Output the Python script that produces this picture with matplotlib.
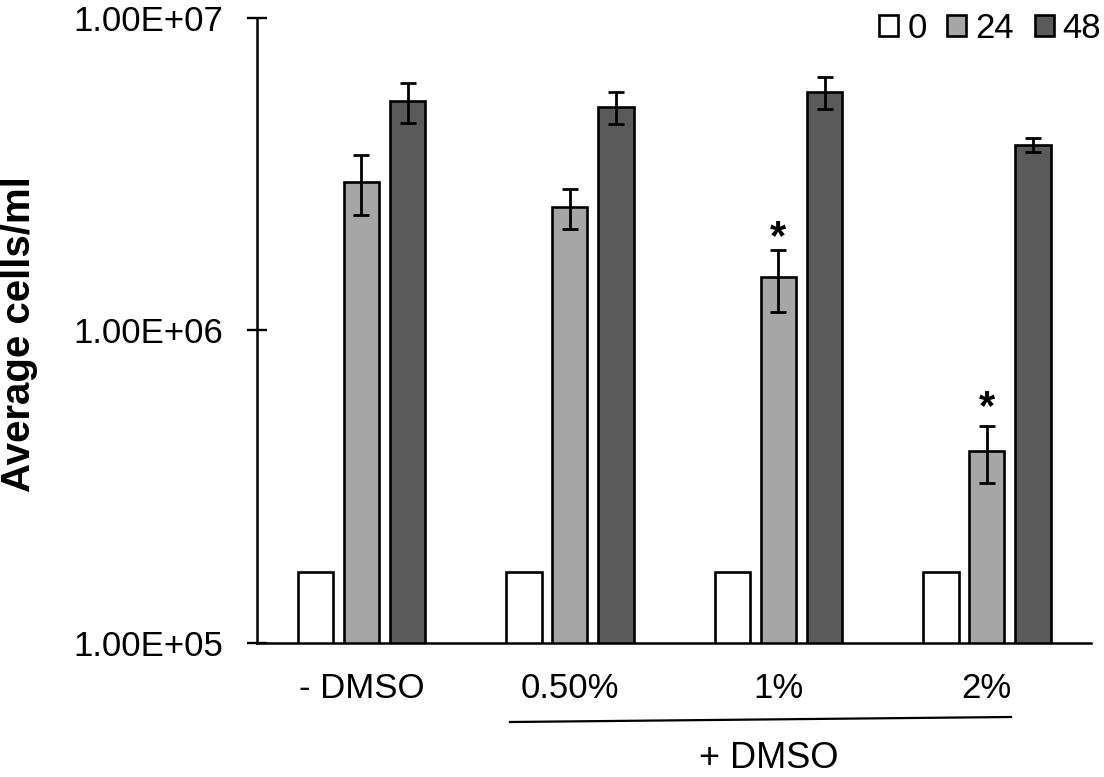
import numpy as np
import matplotlib
matplotlib.use("Agg")
import matplotlib.pyplot as plt
from matplotlib.lines import Line2D
from matplotlib.ticker import FixedLocator, FuncFormatter, NullLocator

plt.rcParams['font.family'] = ['Liberation Sans', 'DejaVu Sans']

groups = ['- DMSO', '0.50%', '1%', '2%']
hours = ['0', '24', '48']

cells_0 = [1.69e5, 1.69e5, 1.69e5, 1.69e5]
cells_24 = [2.99e6, 2.48e6, 1.48e6, 4.11e5]
cells_48 = [5.42e6, 5.19e6, 5.80e6, 3.93e6]

err_0 = [0, 0, 0, 0]
err_24 = [0.65e6, 0.36e6, 0.33e6, 0.85e5]
err_48 = [0.79e6, 0.60e6, 0.68e6, 0.21e6]

# groups that got a significance star (24 h series)
starred = [2, 3]

colors = ['#ffffff', '#a6a6a6', '#5a5a5a']
offsets = [-0.22, 0.0, 0.222]
width = 0.17

fig = plt.figure(figsize=(11.04, 7.77), dpi=100)
ax = fig.add_axes([0.2328, 0.1725, 0.7554, 0.8043])
ax.set_yscale('log')

ind = np.arange(len(groups))
series = [(cells_0, err_0), (cells_24, err_24), (cells_48, err_48)]
handles = []
for k, (vals, errs) in enumerate(series):
    bars = ax.bar(ind + offsets[k], vals, width, color=colors[k],
                  edgecolor='black', linewidth=1.9, zorder=2)
    handles.append(bars)
    if k > 0:
        ax.errorbar(ind + offsets[k], vals, yerr=errs, fmt='none', ecolor='black',
                    elinewidth=2.0, capsize=6, capthick=2.0, zorder=3)

star_pad = {2: 0.5, 3: 5.0}
for g in starred:
    ax.annotate('*', xy=(ind[g] + offsets[1], cells_24[g] + err_24[g]),
                xytext=(0, star_pad[g]), textcoords='offset points',
                ha='center', va='baseline', fontsize=30, fontweight='bold')

ax.set_ylim(1e5, 1e7)
ax.set_xlim(-0.5, 3.5)
ax.yaxis.set_major_locator(FixedLocator([1e5, 1e6, 1e7]))
ax.yaxis.set_minor_locator(NullLocator())
ax.yaxis.set_major_formatter(FuncFormatter(lambda v, p: '%.2E' % v))
ax.tick_params(axis='y', direction='inout', length=15, width=1.7, pad=17, labelsize=25)
ax.set_xticks(ind)
ax.set_xticklabels(groups)
ax.tick_params(axis='x', length=0, pad=21, labelsize=25)

for s in ['top', 'right']:
    ax.spines[s].set_visible(False)
for s in ['left', 'bottom']:
    ax.spines[s].set_linewidth(1.8)

ax.set_ylabel('Average cells/ml', fontsize=29, fontweight='bold', va='center')
ax.yaxis.set_label_coords(-0.2854, (643 - 334) / 625)

fig.legend([h[0] for h in handles], hours, loc='upper right',
           bbox_to_anchor=(1101 / 1104, 1 - 12 / 777), ncol=3, frameon=False,
           fontsize=25, handlelength=0.55, handleheight=0.55, handletextpad=0.25,
           columnspacing=0.6, borderpad=0, borderaxespad=0)

# bracket under the +DMSO groups
fig.add_artist(Line2D([510 / 1104, 1011 / 1104], [1 - 722 / 777, 1 - 717 / 777],
                      color='black', linewidth=1.6))
fig.text(769 / 1104, 1 / 777, '+ DMSO', ha='center', va='bottom', fontsize=26)

fig.savefig('out.png', dpi=100)
